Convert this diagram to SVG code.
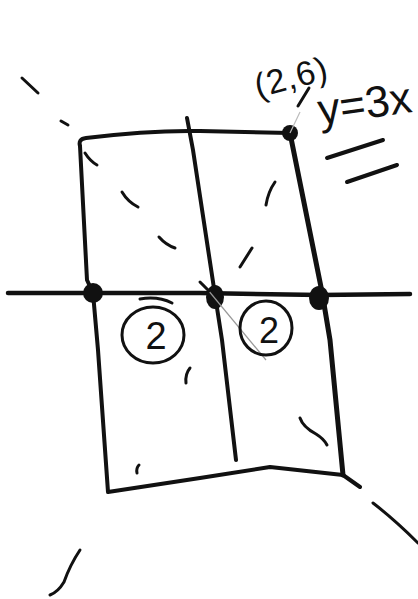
<svg xmlns="http://www.w3.org/2000/svg" width="418" height="599" viewBox="0 0 418 599">
<style>
.ln{fill:none;stroke:#111;stroke-linecap:round;stroke-linejoin:round}
.mk{fill:none;stroke:#111;stroke-width:3;stroke-linecap:round}
.dot{fill:#111}
.lbl{font-family:"Liberation Sans",Arial,sans-serif;fill:#111}
</style>
<rect width="418" height="599" fill="#fff"/>
<g id="frame">
<path class="ln" stroke-width="4" d="M80,146 Q78,139 86,138 Q150,130 200,131 L290,133"/>
<path class="ln" stroke-width="4" d="M80,146 L87,280 L93,293 L98,350 L108,492 L200,478 L270,467 L343,475 L360,487"/>
<path class="ln" stroke-width="5" d="M290,133 L322,292 L330,340 L343,475"/>
<path class="ln" stroke-width="4" d="M187,118 L193,150 L215,295 L222,340 L236,460"/>
</g>
<g id="axis">
<path class="ln" stroke-width="4.5" d="M8,293 L200,293 L320,295 L410,294"/>
</g>
<g id="points">
<ellipse class="dot" cx="93" cy="293" rx="10" ry="10"/>
<ellipse class="dot" cx="215" cy="297" rx="9" ry="12"/>
<ellipse class="dot" cx="319" cy="298" rx="10" ry="12"/>
<circle class="dot" cx="290" cy="133" r="8"/>
</g>
<g id="guide">
<path fill="none" stroke="#999" stroke-width="1.2" d="M203,284 L266,360"/>
<path class="mk" stroke-width="2.5" d="M200,282 L209,291"/>
<path fill="none" stroke="#bbb" stroke-width="1.2" d="M290,133 L300,112"/>
<path class="mk" stroke-width="2.5" d="M309,88 L298,106"/>
</g>
<g id="region-left">
<ellipse class="ln" stroke-width="3" cx="153" cy="335" rx="31" ry="28"/>
<path class="ln" stroke-width="3" d="M140,299 Q158,296 172,303"/>
<text class="lbl" x="156" y="349" font-size="38" text-anchor="middle">2</text>
</g>
<g id="region-right">
<ellipse class="ln" stroke-width="3" cx="266" cy="328" rx="26" ry="27"/>
<text class="lbl" x="269" y="343" font-size="36" text-anchor="middle">2</text>
</g>
<g id="label-point">
<text class="lbl" x="258" y="98" font-size="34" letter-spacing="1" transform="rotate(-15 258 98)">(2,6)</text>
</g>
<g id="label-line">
<text class="lbl" x="320" y="125" font-size="44" transform="rotate(-8 320 125)">y=3x</text>
<path class="ln" stroke-width="4" d="M327,158 L383,140"/>
<path class="ln" stroke-width="4" d="M347,182 L397,165"/>
</g>
<g id="marks">
<path class="mk" d="M22,78 L38,93"/>
<path class="mk" d="M61,121 L68,125"/>
<path class="mk" d="M85,153 Q90,161 97,165"/>
<path class="mk" d="M122,192 Q128,202 138,207"/>
<path class="mk" d="M159,237 Q166,245 175,248"/>
<path class="mk" d="M275,182 Q268,192 266,205"/>
<path class="mk" d="M252,248 L240,267"/>
<path class="mk" d="M190,368 Q185,374 186,383"/>
<path class="mk" d="M139,465 Q136,468 137,473"/>
<path class="mk" d="M300,418 Q303,427 316,434 Q324,439 327,445"/>
<path class="mk" d="M373,503 Q395,520 418,543"/>
<path class="mk" d="M80,550 Q70,565 64,582 Q58,592 50,595"/>
</g>
</svg>
